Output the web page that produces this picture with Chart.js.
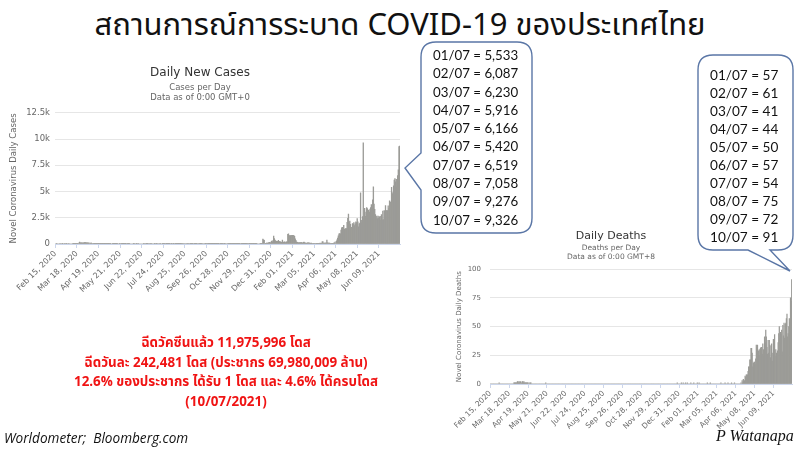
<!DOCTYPE html>
<html>
<head>
<meta charset="utf-8">
<script src="https://cdn.jsdelivr.net/npm/chart.js@4.4.1/dist/chart.umd.min.js"></script>
<style>
  html, body { margin:0; padding:0; background:#ffffff; }
  body { width:800px; height:449px; position:relative; overflow:hidden;
         font-family:"Noto Sans Thai","Noto Sans Thai UI","Loma","Garuda","Waree","Tahoma","Liberation Sans",sans-serif; }
  .abs { position:absolute; }
  #title { left:0; top:2px; width:800px; text-align:center; font-size:31px; color:#111; white-space:nowrap; }
  #w1 { left:0; top:60px; width:410px; height:260px; }
  #w2 { left:430px; top:228px; width:370px; height:221px; }
  #bubbles { left:0; top:0; width:800px; height:449px; pointer-events:none; }
  .btxt { font-family:"Lato","Open Sans",sans-serif; font-size:13.3px; line-height:18.3px; color:#111; white-space:nowrap; }
  #red { left:26px; top:334px; width:400px; text-align:center; color:#f01414; font-weight:bold; font-size:13.4px; line-height:19.7px; white-space:nowrap; }
  #src { left:4px; top:428px; font-family:"Open Sans","Lato",sans-serif; font-style:italic; font-size:13.6px; color:#111; white-space:nowrap; }
  #auth { left:716px; top:427px; font-family:"Liberation Serif","DejaVu Serif",serif; font-style:italic; font-size:16px; color:#111; white-space:nowrap; }
</style>
</head>
<body>
<div id="title" class="abs">สถานการณ์การระบาด COVID-19 ของประเทศไทย</div>
<div id="w1" class="abs"><canvas id="c1"></canvas></div>
<div id="w2" class="abs"><canvas id="c2"></canvas></div>
<svg id="bubbles" class="abs" width="800" height="449">
  <path d="M436 42 H517 Q532 42 532 57 V218 Q532 233 517 233 H436 Q421 233 421 218 V190 L405 168 L421 153 V57 Q421 42 436 42 Z" fill="#ffffff" stroke="#5a76a6" stroke-width="1.4"/>
  <path d="M713 55 H778 Q793 55 793 70 V235 Q793 250 778 250 H770 L790 271 L748 250 H713 Q698 250 698 235 V70 Q698 55 713 55 Z" fill="#ffffff" stroke="#5a76a6" stroke-width="1.4"/>
</svg>
<div id="b1" class="abs btxt" style="left:433px; top:46px;"></div>
<div id="b2" class="abs btxt" style="left:710px; top:66px; line-height:18px; font-size:13.6px;"></div>
<div id="red" class="abs">ฉีดวัคซีนแล้ว 11,975,996 โดส<br>ฉีดวันละ 242,481 โดส (ประชากร 69,980,009 ล้าน)<br>12.6% ของประชากร ได้รับ 1 โดส และ 4.6% ได้ครบโดส<br>(10/07/2021)</div>
<div id="src" class="abs">Worldometer;&nbsp; Bloomberg.com</div>
<div id="auth" class="abs">P Watanapa</div>
<script>
// ---------- DATA ----------
// Daily new cases, Feb 15 2020 .. Dec 31 2020 (one line per month)
const cases2020 = [
  0,0,1,0,0,0,0,2,0,0,3,3,0,0,2,
  0,1,1,0,0,1,0,0,0,0,0,11,5,7,32,33,30,35,60,50,89,188,122,106,107,111,91,109,143,136,127,
  120,104,103,89,102,51,38,111,54,50,45,33,28,34,30,29,28,33,32,27,19,15,13,15,53,15,9,7,7,9,
  6,6,18,3,1,1,1,0,0,5,4,1,2,3,6,1,3,0,0,2,3,0,8,1,2,2,1,11,11,1,0,
  1,2,1,5,0,0,0,0,0,1,1,0,0,4,2,0,6,0,0,0,0,0,0,0,2,0,5,0,3,4,
  4,0,2,0,8,0,6,0,0,0,5,3,0,3,2,0,0,6,0,4,0,0,3,2,3,2,0,4,6,1,4,
  2,4,2,0,2,2,0,3,4,0,2,3,3,1,1,2,2,3,4,2,0,7,0,1,0,0,1,0,4,0,5,
  0,2,3,7,1,2,0,4,2,7,10,1,0,2,0,1,4,3,4,0,3,0,0,6,3,2,0,3,6,2,
  1,3,1,3,7,1,7,2,4,3,1,5,10,4,9,0,1,5,7,1,0,4,8,5,0,0,4,0,7,3,4,
  3,5,4,2,3,6,2,2,1,2,4,5,9,4,2,0,6,1,3,5,1,5,11,4,7,4,0,2,8,1,
  14,1,15,3,5,6,1,4,2,3,0,0,0,0,5,2,3,28,480,400,360,46,60,25,110,64,121,144,155,81,194
];
// Daily new cases, Jan 1 2021 .. Jul 10 2021
const cases2021 = [
  279,216,315,745,527,365,305,250,199,249,339,250,242,213,188,158,369,181,171,198,187,103,198,196,914,959,819,756,802,834,803,
  834,820,806,727,500,350,216,163,143,107,128,114,136,141,125,69,170,180,135,87,89,75,107,120,110,96,85,60,
  80,54,47,71,46,61,50,67,39,67,70,52,66,82,55,58,195,234,85,97,84,98,103,380,100,83,89,82,42,45,33,
  26,56,84,84,194,50,250,405,559,789,967,985,965,1335,1543,1582,1547,1767,1390,1443,1458,1470,2070,2438,2839,2048,2179,1871,1583,1583,
  1940,1891,2041,1763,1911,2112,2044,2419,2101,1630,1919,1983,4887,2256,2052,2601,9635,2473,3394,2637,3052,3481,3382,2713,3226,3051,3323,3481,3759,3440,4200,
  5450,3800,3300,2800,2419,2671,2419,2662,2455,2602,2290,2644,2804,2301,3129,2331,3174,3129,3667,3175,3174,3174,3644,3406,4108,3995,3995,5406,4786,4900,
  5533,6087,6230,5916,6166,5420,6519,7058,9276,9326
];
// Daily deaths, Feb 15 2020 .. Dec 31 2020
const deaths2020 = [
  0,0,0,0,0,0,0,0,0,0,0,0,0,0,0,
  1,0,0,0,0,0,0,0,0,0,0,0,0,0,0,0,0,0,0,0,0,0,0,0,0,1,1,1,1,1,1,
  2,2,1,2,1,2,0,1,2,2,1,2,1,1,1,1,1,1,1,0,1,0,1,1,0,0,0,0,0,0,
  0,0,0,0,0,0,0,0,0,0,0,0,0,0,0,0,0,0,1,0,0,0,0,0,0,0,0,0,0,0,0,
  0,0,0,0,0,0,0,0,0,0,0,0,0,0,0,0,0,0,0,0,0,0,0,0,0,0,0,0,0,0,
  0,0,0,0,0,0,0,0,0,0,0,0,0,0,0,0,0,0,0,0,0,0,0,0,0,0,0,0,0,0,0,
  0,0,0,0,0,0,0,0,0,0,0,0,0,0,0,0,0,0,0,0,0,0,0,0,0,0,0,0,0,0,0,
  0,0,0,0,0,0,0,0,0,0,0,0,0,0,0,0,0,0,0,0,0,0,0,0,0,0,0,0,0,0,
  0,0,0,0,0,0,0,0,0,0,0,0,0,0,0,0,0,0,0,0,0,0,0,0,0,0,0,0,0,0,0,
  0,0,0,0,0,0,0,0,0,0,0,0,0,0,0,0,0,0,0,0,0,0,0,0,0,0,0,0,0,0,
  0,0,0,0,0,0,0,0,0,0,0,0,0,0,0,0,0,0,0,0,0,0,0,0,0,0,0,1,0,0,0
];
// Daily deaths, Jan 1 2021 .. Jul 10 2021
const deaths2021 = [
  0,0,0,1,0,0,1,0,0,0,1,0,0,1,0,0,0,0,0,1,0,0,0,0,1,0,0,0,0,0,1,
  0,0,1,0,0,0,0,0,0,0,0,0,0,0,0,0,1,0,0,0,0,1,0,0,0,0,0,0,
  0,0,0,0,0,0,0,0,0,0,0,1,0,0,0,0,0,0,1,0,0,0,0,1,0,0,0,0,0,1,0,
  0,0,0,1,0,0,0,0,0,0,0,0,0,0,1,0,3,1,4,2,3,7,6,8,8,8,11,15,15,21,
  21,31,31,27,15,18,19,19,17,22,34,32,34,25,29,30,25,31,32,32,26,35,30,24,41,36,47,41,32,26,38,
  27,38,34,23,33,35,20,27,39,37,43,24,30,27,26,29,36,44,50,40,45,43,47,28,51,42,53,40,52,53,
  57,61,41,44,50,57,54,75,72,91
];
// x-axis tick labels (every 32nd day)
const tickLabels = ["Feb 15, 2020","Mar 18, 2020","Apr 19, 2020","May 21, 2020","Jun 22, 2020","Jul 24, 2020",
  "Aug 25, 2020","Sep 26, 2020","Oct 28, 2020","Nov 29, 2020","Dec 31, 2020","Feb 01, 2021","Mar 05, 2021",
  "Apr 06, 2021","May 08, 2021","Jun 09, 2021"];
const TICK_EVERY = 32;
// callout texts
const casesJuly = ["01/07 = 5,533","02/07 = 6,087","03/07 = 6,230","04/07 = 5,916","05/07 = 6,166",
  "06/07 = 5,420","07/07 = 6,519","08/07 = 7,058","09/07 = 9,276","10/07 = 9,326"];
const deathsJuly = ["01/07 = 57","02/07 = 61","03/07 = 41","04/07 = 44","05/07 = 50",
  "06/07 = 57","07/07 = 54","08/07 = 75","09/07 = 72","10/07 = 91"];

// ---------- BUILD ----------
document.getElementById('b1').innerHTML = casesJuly.join('<br>');
document.getElementById('b2').innerHTML = deathsJuly.join('<br>');

const cases = cases2020.concat(cases2021);
const deaths = deaths2020.concat(deaths2021);
const MONTHS = ['Jan','Feb','Mar','Apr','May','Jun','Jul','Aug','Sep','Oct','Nov','Dec'];
const t0 = Date.UTC(2020, 1, 15);
const dayLabels = cases.map((_, i) => {
  const d = new Date(t0 + i * 864e5);
  return MONTHS[d.getUTCMonth()] + ' ' + String(d.getUTCDate()).padStart(2, '0') + ', ' + d.getUTCFullYear();
});

const FONT = '"DejaVu Sans", "Liberation Sans", sans-serif';
const BAR = '#9b9b97';

function makeChart(id, data, opt) {
  return new Chart(document.getElementById(id), {
    type: 'bar',
    data: { labels: dayLabels, datasets: [{ data: data, backgroundColor: BAR, borderWidth: 0,
      barPercentage: 1, categoryPercentage: 1 }] },
    options: {
      responsive: true, maintainAspectRatio: false, animation: false,
      layout: { padding: opt.pad },
      plugins: {
        legend: { display: false }, tooltip: { enabled: false },
        title: { display: true, text: opt.title, color: '#333', font: { family: FONT, size: opt.tSize, weight: 'normal' },
                 padding: { top: 0, bottom: opt.tPadB } },
        subtitle: { display: true, text: opt.sub, color: '#666', font: { family: FONT, size: opt.sSize },
                 padding: { top: 0, bottom: opt.sPadB } }
      },
      scales: {
        x: {
          grid: { display: true, drawOnChartArea: false, drawTicks: true, tickLength: 4, color: '#ccd6eb', offset: false },
          border: { display: true, color: '#ccd6eb' },
          ticks: { autoSkip: false, minRotation: 45, maxRotation: 45, color: '#666', padding: 1,
                   font: { family: FONT, size: opt.xSize },
                   callback: (v) => tickLabels[v / TICK_EVERY] },
          afterBuildTicks: (s) => { s.ticks = s.ticks.filter(t => t.value % TICK_EVERY === 0); },
          afterFit: (s) => { s.height = opt.xH; }
        },
        y: {
          min: 0, max: opt.yMax,
          grid: { color: '#e6e6e6', drawTicks: false },
          border: { display: false },
          ticks: { stepSize: opt.step, color: '#666', padding: opt.yPad, font: { family: FONT, size: opt.ySize },
                   callback: opt.fmt },
          title: { display: true, text: opt.yTitle, color: '#666', font: { family: FONT, size: opt.ySize },
                   padding: { top: opt.yTitlePad, bottom: 0 } },
          afterFit: (s) => { s.width = opt.yW; }
        }
      }
    }
  });
}

makeChart('c1', cases, {
  pad: { top: 6, right: 10, left: 0, bottom: 0 },
  title: 'Daily New Cases', tSize: 12, tPadB: 2,
  sub: ['Cases per Day', 'Data as of 0:00 GMT+0'], sSize: 8.5, sPadB: 10,
  xSize: 8, xH: 76, yMax: 12500, step: 2500, yPad: 5, ySize: 8.5, yW: 55, yTitlePad: 9,
  yTitle: 'Novel Coronavirus Daily Cases',
  fmt: (v) => v === 0 ? '0' : (v / 1000) + 'k'
});
makeChart('c2', deaths, {
  pad: { top: 2, right: 8, left: 0, bottom: 0 },
  title: 'Daily Deaths', tSize: 11, tPadB: 0,
  sub: ['Deaths per Day', 'Data as of 0:00 GMT+8'], sSize: 7.5, sPadB: 8,
  xSize: 7.5, xH: 65, yMax: 100, step: 25, yPad: 9, ySize: 7, yW: 60, yTitlePad: 25,
  yTitle: 'Novel Coronavirus Daily Deaths',
  fmt: (v) => String(v)
});
</script>
</body>
</html>
